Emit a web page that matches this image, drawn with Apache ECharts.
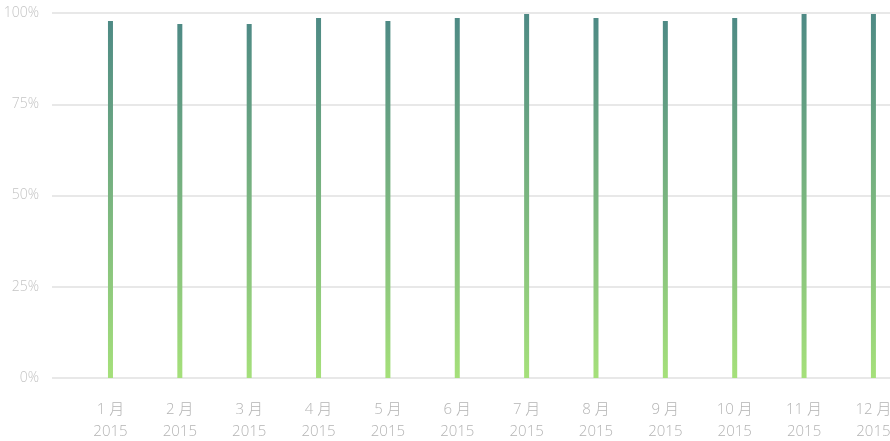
<!DOCTYPE html>
<html>
<head>
<meta charset="utf-8">
<script src="https://cdn.jsdelivr.net/npm/echarts@6/dist/echarts.min.js"></script>
<style>
body {
  margin: 0;
}
#chart {
  width: 890px;
  height: 441px;
}
</style>
</head>
<body>
<div id="chart"></div>
<script>
// monthly values, percent
const months = ['1', '2', '3', '4', '5', '6', '7', '8', '9', '10', '11', '12']
const year = '2015'
const values = [97.8, 97, 97, 98.6, 97.8, 98.6, 99.7, 98.6, 97.8, 98.6, 99.7, 99.7]
const yTicks = [0, 25, 50, 75, 100]

const chart = echarts.init(document.getElementById('chart'))
const labelFont = "'Open Sans', 'Noto Sans CJK SC', sans-serif"

const option = {
  animation: false,
  grid: {
    left: 52,
    right: 0,
    top: 13,
    bottom: 63,
    outerBoundsMode: 'none'
  },
  xAxis: {
    type: 'value',
    min: -0.843,
    max: 11.239,
    axisLine: { show: false },
    axisTick: { show: false },
    splitLine: { show: false },
    axisLabel: {
      customValues: months.map((m, i) => i),
      formatter: v => months[Math.round(v)] + ' 月\n' + year,
      color: '#b4b4b4',
      fontSize: 15,
      fontWeight: 300,
      lineHeight: 22,
      margin: 21,
      fontFamily: labelFont
    }
  },
  yAxis: {
    type: 'value',
    min: yTicks[0],
    max: yTicks[yTicks.length - 1],
    interval: 25,
    axisLine: { show: false },
    axisTick: { show: false },
    splitLine: {
      lineStyle: { color: '#e0e0e0', width: 1.5 }
    },
    axisLabel: {
      formatter: '{value}%',
      color: '#c4c4c4',
      fontSize: 14,
      fontWeight: 300,
      margin: 13,
      fontFamily: labelFont
    }
  },
  series: [
    {
      type: 'bar',
      barWidth: 5,
      data: values.map((v, i) => [i, v]),
      itemStyle: {
        color: new echarts.graphic.LinearGradient(0, 0, 0, 1, [
          { offset: 0, color: '#4e8a85' },
          { offset: 1, color: '#a5e07a' }
        ])
      }
    }
  ]
}
chart.setOption(option)
</script>
</body>
</html>
